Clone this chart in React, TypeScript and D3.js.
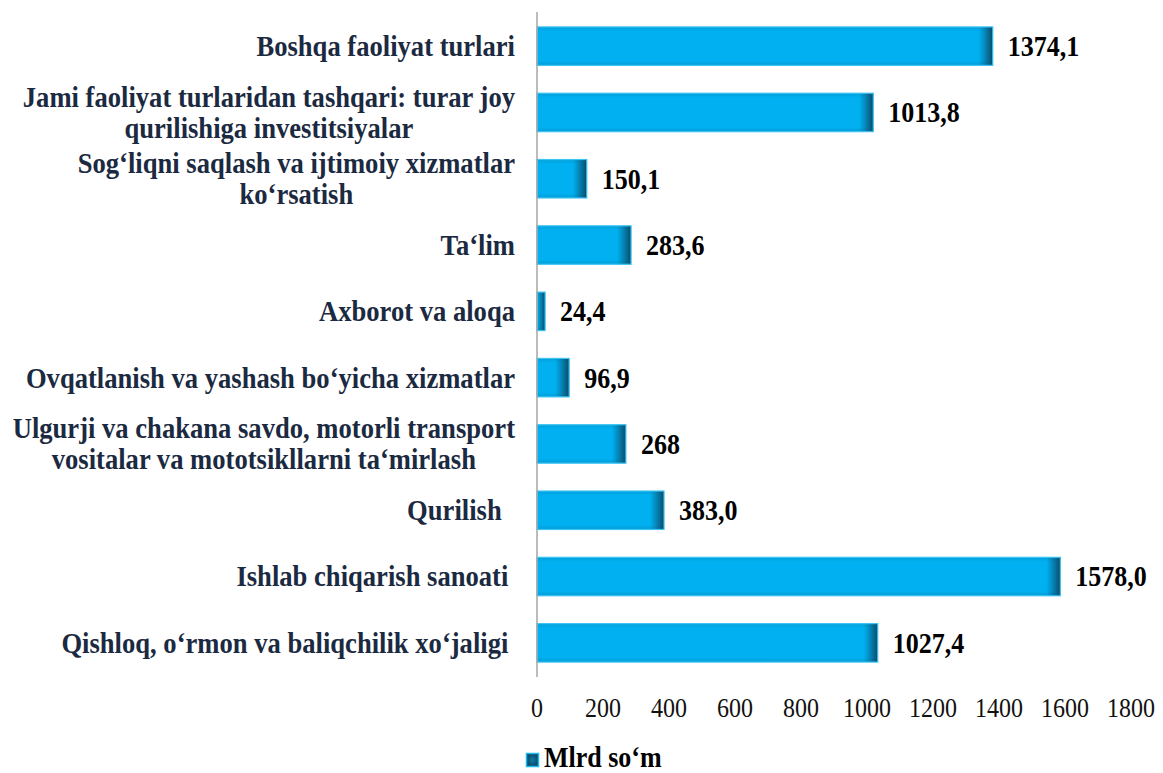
import { useEffect, useRef } from "react";
import * as d3 from "d3";

// categories top to bottom, lines of each label
const categories: string[][] = [
  ["Boshqa faoliyat turlari"],
  ["Jami faoliyat turlaridan tashqari: turar joy", "qurilishiga investitsiyalar"],
  ["Sog‘liqni saqlash va ijtimoiy xizmatlar", "ko‘rsatish"],
  ["Ta‘lim"],
  ["Axborot va aloqa"],
  ["Ovqatlanish va yashash bo‘yicha xizmatlar"],
  ["Ulgurji va chakana savdo, motorli transport", "vositalar va mototsikllarni ta‘mirlash"],
  ["Qurilish  "],
  ["Ishlab chiqarish sanoati "],
  ["Qishloq, o‘rmon va baliqchilik xo‘jaligi "],
];
const values: number[] = [1374.1, 1013.8, 150.1, 283.6, 24.4, 96.9, 268, 383.0, 1578.0, 1027.4];
const valueLabels: string[] = ["1374,1", "1013,8", "150,1", "283,6", "24,4", "96,9", "268", "383,0", "1578,0", "1027,4"];
const xTicks: number[] = [0, 200, 400, 600, 800, 1000, 1200, 1400, 1600, 1800];
const seriesName = "Mlrd so‘m";

const W = 1163;
const H = 773;
const FONT = "'Liberation Serif', 'Times New Roman', serif";
const SY = 1.1; // text is a bit taller than wide in the original

export default function App() {
  const svgRef = useRef<SVGSVGElement>(null);

  useEffect(() => {
    if (!svgRef.current) return;
    const svg = d3.select(svgRef.current);
    svg.selectAll("*").remove();

    const x = d3.scaleLinear().domain([0, 1800]).range([537, 1134]);
    const y = d3
      .scaleBand<number>()
      .domain(d3.range(categories.length))
      .range([13, 676])
      .paddingInner(0.42)
      .paddingOuter(0.21);

    const defs = svg.append("defs");
    const edge = defs.append("linearGradient").attr("id", "edge").attr("x1", 0).attr("x2", 1).attr("y1", 0).attr("y2", 0);
    edge.append("stop").attr("offset", "0%").attr("stop-color", "#0a5a7c").attr("stop-opacity", 0);
    edge.append("stop").attr("offset", "100%").attr("stop-color", "#0a4a68").attr("stop-opacity", 1);
    const shade = defs.append("linearGradient").attr("id", "shade").attr("x1", 0).attr("x2", 0).attr("y1", 0).attr("y2", 1);
    shade.append("stop").attr("offset", "0%").attr("stop-color", "#0a6f99").attr("stop-opacity", 0.25);
    shade.append("stop").attr("offset", "12%").attr("stop-color", "#0a6f99").attr("stop-opacity", 0);
    shade.append("stop").attr("offset", "88%").attr("stop-color", "#0a6f99").attr("stop-opacity", 0);
    shade.append("stop").attr("offset", "100%").attr("stop-color", "#0a6f99").attr("stop-opacity", 0.3);
    const leg = defs.append("radialGradient").attr("id", "leg");
    leg.append("stop").attr("offset", "0%").attr("stop-color", "#0d7aa3");
    leg.append("stop").attr("offset", "100%").attr("stop-color", "#0a4a68");

    // bars
    const bars = svg.append("g");
    values.forEach((v, i) => {
      const x0 = x(0);
      const w = x(v) - x0;
      const yy = y(i)!;
      const h = y.bandwidth();
      bars.append("rect").attr("x", x0).attr("y", yy).attr("width", w).attr("height", h).attr("fill", "#00b0f0");
      bars.append("rect").attr("x", x0).attr("y", yy).attr("width", w).attr("height", h).attr("fill", "url(#shade)");
      const ew = Math.min(14, w);
      bars.append("rect").attr("x", x0 + w - ew).attr("y", yy).attr("width", ew).attr("height", h).attr("fill", "url(#edge)");
      bars
        .append("rect")
        .attr("x", x0)
        .attr("y", yy)
        .attr("width", w)
        .attr("height", h)
        .attr("fill", "none")
        .attr("stroke", "#3cc4f5")
        .attr("stroke-width", 1.2);

      // value label
      bars
        .append("text")
        .attr("transform", `translate(${x(v) + 15},${yy + h / 2 + 9 * SY}) scale(1,${SY})`)
        .attr("font-family", FONT)
        .attr("font-weight", "bold")
        .attr("font-size", 26)
        .attr("fill", "#000")
        .text(valueLabels[i]);
    });

    // vertical axis line
    svg
      .append("line")
      .attr("x1", x(0))
      .attr("x2", x(0))
      .attr("y1", 12)
      .attr("y2", 677)
      .attr("stroke", "#a6a6a6")
      .attr("stroke-width", 1.5);

    // category labels
    const labels = svg.append("g");
    const right = 515;
    const lineH = 31;
    categories.forEach((lines, i) => {
      const cy = y(i)! + y.bandwidth() / 2;
      const g = labels.append("g");
      const texts = lines.map((ln) =>
        g
          .append("text")
          .attr("font-family", FONT)
          .attr("font-weight", "bold")
          .attr("font-size", 26.6)
          .attr("fill", "#1b2a41")
          .style("white-space", "pre")
          .text(ln),
      );
      const widths = texts.map((t) => (t.node() as SVGTextElement).getComputedTextLength());
      const maxW = d3.max(widths) || 0;
      const top = cy - ((lines.length - 1) * lineH) / 2;
      texts.forEach((t, k) => {
        const cx = lines.length === 1 ? right - widths[k] / 2 : right - maxW / 2;
        t.attr("text-anchor", "middle").attr("transform", `translate(${cx},${top + k * lineH + 9 * SY}) scale(1,${SY})`);
      });
    });

    // x tick labels
    const ticks = svg.append("g");
    xTicks.forEach((t) => {
      ticks
        .append("text")
        .attr("transform", `translate(${x(t) - (t / 1800) * 3},717) scale(1,${SY})`)
        .attr("text-anchor", "middle")
        .attr("font-family", FONT)
        .attr("font-size", 24)
        .attr("fill", "#111")
        .text(String(t));
    });

    // legend
    const lg = svg.append("g");
    lg.append("rect")
      .attr("x", 526.5)
      .attr("y", 753.5)
      .attr("width", 12)
      .attr("height", 13)
      .attr("fill", "url(#leg)")
      .attr("stroke", "#1fb8f2")
      .attr("stroke-width", 1.5);
    lg.append("text")
      .attr("transform", `translate(544,767) scale(1,${SY})`)
      .attr("font-family", FONT)
      .attr("font-weight", "bold")
      .attr("font-size", 26)
      .attr("fill", "#000")
      .text(seriesName);
  }, []);

  return (
    <svg
      ref={svgRef}
      width={W}
      height={H}
      style={{ position: "absolute", left: 0, top: 0, background: "#fff" }}
    />
  );
}
